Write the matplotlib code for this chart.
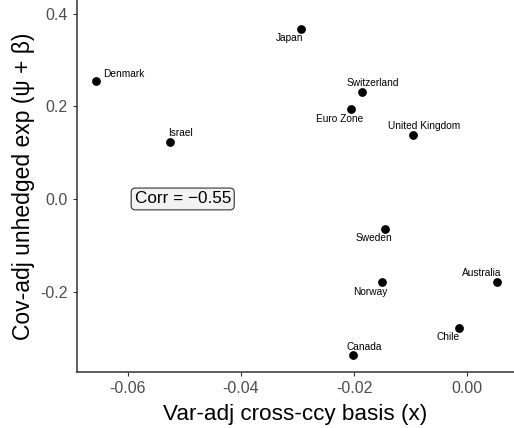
import matplotlib
matplotlib.use("Agg")
import matplotlib.pyplot as plt

plt.rcParams['font.family'] = ['Liberation Sans', 'DejaVu Sans']

countries = ["Denmark", "Israel", "Japan", "Switzerland", "Euro Zone", "United Kingdom",
             "Sweden", "Norway", "Australia", "Chile", "Canada"]
basis = [-0.0657, -0.0526, -0.0294, -0.0186, -0.0205, -0.0096,
         -0.0145, -0.0151, 0.0053, -0.0014, -0.0201]
exposure = [0.255, 0.123, 0.368, 0.232, 0.194, 0.138,
            -0.064, -0.180, -0.180, -0.278, -0.338]

# label offsets in points (dx, dy)
offsets = {
    "Denmark": (20, 5), "Israel": (8, 6.5), "Japan": (-8, -6.5), "Switzerland": (8, 6.5),
    "Euro Zone": (-8, -6.8), "United Kingdom": (8.3, 6.5), "Sweden": (-8, -6.8),
    "Norway": (-8.4, -7), "Australia": (-11, 6.5), "Chile": (-8, -6.8), "Canada": (8, 6.2),
}

fig = plt.figure(figsize=(5.14, 4.28), dpi=100)
ax = fig.add_axes([0.1498, 0.1308, 0.8502, 0.8692])

ax.scatter(basis, exposure, s=28, color="black", zorder=3)
for name, xv, yv in zip(countries, basis, exposure):
    dx, dy = offsets[name]
    ax.annotate(name, (xv, yv), xytext=(dx, dy), textcoords="offset points",
                ha="center", va="center", fontsize=7.3, color="black")

ax.text(-0.0503, 0.0, "Corr = \u22120.55", fontsize=12.3, ha="center", va="center",
        bbox=dict(boxstyle="round,pad=0.2,rounding_size=0.25", fc="#F2F2F2", ec="#333333", lw=0.8))

ax.set_xlim(-0.069, 0.0083)
ax.set_ylim(-0.374, 0.430)
ax.set_xticks([-0.06, -0.04, -0.02, 0.00])
ax.set_xticklabels(["-0.06", "-0.04", "-0.02", "0.00"])
ax.set_yticks([-0.2, 0.0, 0.2, 0.4])
ax.set_yticklabels(["-0.2", "0.0", "0.2", "0.4"])
ax.tick_params(labelsize=11.5, labelcolor="#4D4D4D", color="#333333", length=3, width=0.8)

for side in ["top", "right"]:
    ax.spines[side].set_visible(False)
for side in ["left", "bottom"]:
    ax.spines[side].set_color("#333333")
    ax.spines[side].set_linewidth(1.1)

ax.set_xlabel("Var-adj cross-ccy basis (x)", fontsize=16.2, labelpad=6)
ax.set_ylabel("Cov-adj unhedged exp (\u03c8 + \u03b2)", fontsize=16.5, labelpad=4)

fig.savefig("out.png", dpi=100)
